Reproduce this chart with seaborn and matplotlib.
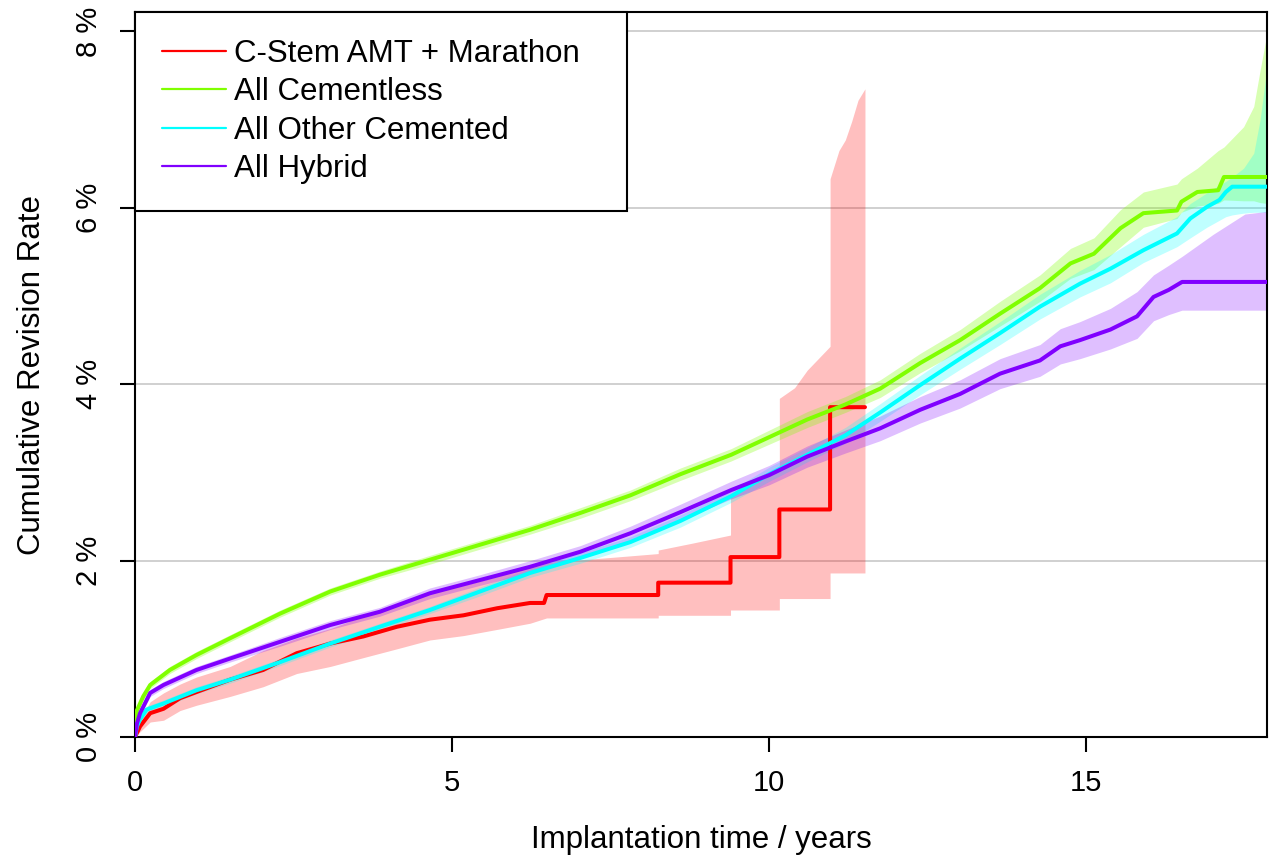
import numpy as np
import pandas as pd
import matplotlib
matplotlib.use("Agg")
import matplotlib.pyplot as plt
import seaborn as sns

# -----------------------------------------------------
# Data (time in years, rate in %)
# -----------------------------------------------------
labels = ["C-Stem AMT + Marathon", "All Cementless", "All Other Cemented", "All Hybrid"]
colors = ["#FF0000", "#80FF00", "#00FFFF", "#8000FF"]

# C-Stem AMT + Marathon (repeated times = vertical jumps)
red_t = [0, 0.08, 0.24, 0.45, 0.71, 0.97, 1.5, 2.02, 2.55, 3.08, 3.6, 4.13, 4.65,
         5.18, 5.71, 6.23, 6.45, 6.49, 8.25, 8.25, 9.39, 9.39, 10.16, 10.16,
         10.96, 10.96, 11.51]
red_v = [0, 0.12, 0.27, 0.32, 0.44, 0.51, 0.65, 0.76, 0.95, 1.06, 1.14, 1.25, 1.33,
         1.38, 1.46, 1.52, 1.52, 1.61, 1.61, 1.75, 1.75, 2.04, 2.04, 2.58,
         2.58, 3.74, 3.74]
red_ci_t = [0, 0.08, 0.24, 0.45, 0.71, 0.97, 1.5, 2.02, 2.55, 3.08, 3.6, 4.13, 4.65,
            5.18, 5.71, 6.23, 6.49, 7.4, 8.25, 8.25, 8.8, 9.39, 9.39, 9.8, 10.16,
            10.16, 10.4, 10.6, 10.96, 10.96, 11.1, 11.2, 11.3, 11.4, 11.51]
red_lo = [0, 0.06, 0.17, 0.19, 0.30, 0.36, 0.46, 0.57, 0.72, 0.80, 0.90, 1.00, 1.10,
          1.15, 1.22, 1.29, 1.35, 1.35, 1.35, 1.38, 1.38, 1.38, 1.44, 1.44, 1.44,
          1.57, 1.57, 1.57, 1.57, 1.86, 1.86, 1.86, 1.86, 1.86, 1.86]
red_hi = [0, 0.20, 0.40, 0.50, 0.60, 0.68, 0.80, 0.98, 1.12, 1.23, 1.37, 1.50, 1.63,
          1.72, 1.82, 1.93, 1.98, 2.03, 2.08, 2.12, 2.20, 2.29, 2.75, 2.95, 3.05,
          3.84, 3.96, 4.16, 4.43, 6.33, 6.65, 6.77, 6.98, 7.22, 7.35]

# All Cementless
green_t = [0, 0.03, 0.13, 0.24, 0.55, 0.97, 1.5, 2.29, 3.08, 3.86, 4.65, 5.44, 6.23,
           7.02, 7.81, 8.6, 9.4, 10.0, 10.6, 11.2, 11.75, 12.38, 13.01, 13.64, 14.27,
           14.75, 15.12, 15.54, 15.9, 16.43, 16.5, 16.75, 17.08, 17.17, 17.48, 17.64,
           17.74, 17.85]
green_v = [0, 0.30, 0.46, 0.59, 0.76, 0.93, 1.12, 1.40, 1.65, 1.84, 2.01, 2.18, 2.35,
           2.54, 2.74, 2.98, 3.20, 3.40, 3.60, 3.77, 3.95, 4.24, 4.50, 4.80, 5.09,
           5.37, 5.48, 5.77, 5.94, 5.97, 6.07, 6.18, 6.20, 6.35, 6.35, 6.35,
           6.35, 6.35]
green_lo = [0, 0.27, 0.42, 0.55, 0.72, 0.89, 1.08, 1.36, 1.61, 1.80, 1.96, 2.13, 2.30,
            2.48, 2.68, 2.91, 3.13, 3.32, 3.51, 3.68, 3.85, 4.13, 4.38, 4.66, 4.94,
            5.20, 5.30, 5.56, 5.78, 5.88, 5.95, 6.02, 6.05, 6.09, 6.08, 6.08,
            6.06, 6.05]
green_hi = [0, 0.33, 0.50, 0.63, 0.80, 0.97, 1.16, 1.44, 1.69, 1.88, 2.06, 2.23, 2.40,
            2.60, 2.80, 3.05, 3.27, 3.48, 3.69, 3.86, 4.05, 4.35, 4.62, 4.94, 5.24,
            5.54, 5.66, 5.98, 6.18, 6.27, 6.33, 6.45, 6.65, 6.69, 6.92, 7.15,
            7.56, 7.98]

# All Other Cemented
cyan_t = [0, 0.03, 0.08, 0.18, 0.45, 0.97, 1.5, 2.29, 3.08, 3.86, 4.65, 5.44, 6.23,
          7.02, 7.81, 8.6, 9.4, 10.0, 10.6, 11.2, 11.75, 12.38, 13.01, 13.64, 14.27,
          14.9, 15.38, 15.9, 16.43, 16.64, 16.9, 17.1, 17.2, 17.3, 17.48, 17.64,
          17.74, 17.85]
cyan_v = [0, 0.12, 0.20, 0.31, 0.38, 0.53, 0.65, 0.85, 1.06, 1.25, 1.44, 1.65, 1.86,
          2.03, 2.21, 2.45, 2.73, 2.98, 3.20, 3.42, 3.68, 3.99, 4.29, 4.58, 4.88,
          5.14, 5.31, 5.52, 5.71, 5.88, 6.01, 6.09, 6.18, 6.24, 6.24, 6.24,
          6.24, 6.24]
cyan_lo = [0, 0.10, 0.17, 0.27, 0.34, 0.49, 0.61, 0.81, 1.02, 1.21, 1.40, 1.60, 1.81,
           1.97, 2.15, 2.38, 2.66, 2.90, 3.12, 3.33, 3.58, 3.88, 4.17, 4.45, 4.74,
           4.99, 5.15, 5.38, 5.56, 5.66, 5.78, 5.86, 5.90, 5.92, 5.94, 5.95,
           5.95, 5.95]
cyan_hi = [0, 0.14, 0.23, 0.35, 0.42, 0.57, 0.69, 0.89, 1.10, 1.29, 1.48, 1.70, 1.91,
           2.09, 2.27, 2.52, 2.80, 3.06, 3.28, 3.51, 3.78, 4.10, 4.41, 4.71, 5.02,
           5.29, 5.47, 5.70, 5.90, 6.05, 6.17, 6.26, 6.30, 6.35, 6.45, 6.62,
           7.00, 7.60]

# All Hybrid
purple_t = [0, 0.03, 0.08, 0.24, 0.45, 0.97, 1.5, 2.29, 3.08, 3.86, 4.65, 5.44, 6.23,
            7.02, 7.81, 8.6, 9.4, 10.0, 10.6, 11.2, 11.75, 12.38, 13.01, 13.64, 14.27,
            14.59, 14.9, 15.38, 15.8, 16.06, 16.3, 16.51, 17.0, 17.5, 17.85]
purple_v = [0, 0.15, 0.27, 0.50, 0.59, 0.76, 0.89, 1.08, 1.27, 1.42, 1.63, 1.78, 1.93,
            2.10, 2.31, 2.55, 2.80, 2.97, 3.18, 3.35, 3.50, 3.71, 3.89, 4.12, 4.27,
            4.43, 4.50, 4.62, 4.77, 4.99, 5.07, 5.16, 5.16, 5.16, 5.16]
purple_lo = [0, 0.13, 0.24, 0.46, 0.55, 0.72, 0.85, 1.03, 1.22, 1.37, 1.57, 1.72, 1.86,
             2.03, 2.23, 2.46, 2.70, 2.86, 3.06, 3.22, 3.36, 3.56, 3.73, 3.95, 4.09,
             4.23, 4.29, 4.40, 4.52, 4.72, 4.79, 4.84, 4.84, 4.84, 4.84]
purple_hi = [0, 0.17, 0.30, 0.54, 0.63, 0.80, 0.93, 1.13, 1.32, 1.47, 1.69, 1.84, 2.00,
             2.17, 2.39, 2.64, 2.90, 3.08, 3.30, 3.48, 3.64, 3.86, 4.05, 4.29, 4.45,
             4.63, 4.71, 4.86, 5.05, 5.24, 5.35, 5.45, 5.70, 5.93, 5.96]

y_ticks = [0, 2, 4, 6, 8]
x_ticks = [0, 5, 10, 15]

# -----------------------------------------------------
# Styling
# -----------------------------------------------------
sns.set_theme(style="ticks")
plt.rcParams['font.family'] = ['Liberation Sans', 'DejaVu Sans']

fig = plt.figure(figsize=(12.71, 8.63), dpi=100)
ax = fig.add_axes([0.1062, 0.146, 0.8907, 0.840])

series = [
    (red_t, red_v, red_ci_t, red_lo, red_hi),
    (green_t, green_v, green_t, green_lo, green_hi),
    (cyan_t, cyan_v, cyan_t, cyan_lo, cyan_hi),
    (purple_t, purple_v, purple_t, purple_lo, purple_hi),
]
fill_alpha = [0.25, 0.3, 0.25, 0.25]

for (t, v, ct, lo, hi), lab, col, fa in zip(series, labels, colors, fill_alpha):
    ax.fill_between(ct, lo, hi, color=col, alpha=fa, lw=0, zorder=2)
    df = pd.DataFrame({"time": t, "rate": v})
    sns.lineplot(data=df, x="time", y="rate", ax=ax, color=col, lw=2.9,
                 estimator=None, sort=False, label=lab, zorder=3)

ax.set_xlim(0, 17.85)
ax.set_ylim(0, 8.22)
ax.set_xticks(x_ticks)
ax.set_xticklabels([str(x) for x in x_ticks])
ax.set_yticks(y_ticks)
ax.set_yticklabels([f"{y} %" for y in y_ticks], rotation=90, va='center')

ax.yaxis.grid(True, color='#C8C8C8', lw=1.2)
ax.xaxis.grid(False)
ax.set_axisbelow(True)

for s in ax.spines.values():
    s.set_visible(True)
    s.set_color('black')
    s.set_linewidth(1.5)

ax.tick_params(axis='both', length=11, width=1.5, color='black', labelsize=21,
               labelcolor='black', pad=12)
ax.set_xlabel("Implantation time / years", fontsize=22.5, labelpad=20, color='black')
ax.set_ylabel("Cumulative Revision Rate", fontsize=22.5, labelpad=20, color='black')

leg = ax.legend(loc='upper left', bbox_to_anchor=(0, 0, 0.4346, 1), mode='expand',
                borderaxespad=0, fontsize=22.5, frameon=True, fancybox=False,
                framealpha=1, edgecolor='black', handlelength=2.07,
                handletextpad=0.25, borderpad=0.85, labelspacing=0.27)
leg.get_frame().set_linewidth(1.5)
for h in leg.get_lines():
    h.set_linewidth(1.6)
for txt in leg.get_texts():
    txt.set_color('black')
leg.set_zorder(10)

fig.savefig("out.png", dpi=100)
